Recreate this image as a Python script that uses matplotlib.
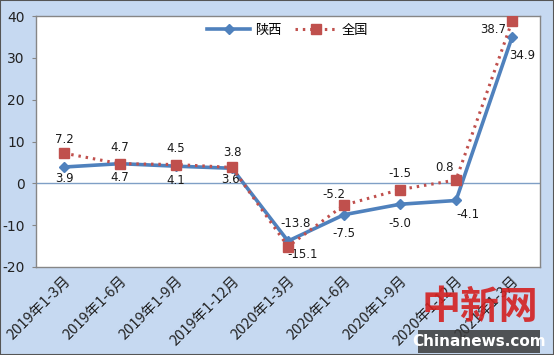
import matplotlib
matplotlib.use("Agg")
import matplotlib.pyplot as plt
from matplotlib.patches import Rectangle

plt.rcParams['font.family'] = ['Noto Sans CJK SC', 'DejaVu Sans']

categories = ["2019年1-3月", "2019年1-6月", "2019年1-9月", "2019年1-12月",
              "2020年1-3月", "2020年1-6月", "2020年1-9月", "2020年1-12月",
              "2021年1-3月"]
shaanxi = [3.9, 4.7, 4.1, 3.6, -13.8, -7.5, -5.0, -4.1, 34.9]
national = [7.2, 4.7, 4.5, 3.8, -15.1, -5.2, -1.5, 0.8, 38.7]
yticks = [-20, -10, 0, 10, 20, 30, 40]

# label offsets in pixels (style)
nat_off = [(0, 14), (0, 16), (0, 16), (0, 15), (15, -8), (-10, 11), (0, 16), (-11, 12), (-19, -8)]
sx_off = [(0, -11), (0, -14), (0, -14), (-2, -11), (8, 18), (0, -19), (0, -19), (12, -14), (10, -18)]

BLUE = '#4F81BD'
RED = '#C0504D'
BG = '#C6D9F1'

fig = plt.figure(figsize=(5.54, 3.55), dpi=100, facecolor=BG)
ax = fig.add_axes([36/554, 1-267/355, (540-36)/554, (267-16)/355])
ax.set_facecolor('white')

x = list(range(len(categories)))
ax.axhline(0, color='#7F9FC6', lw=1, zorder=1)
ax.plot(x, shaanxi, color=BLUE, lw=2.6, marker='D', ms=4.8, label='陕西', zorder=3)
ax.plot(x, national, color=RED, lw=2.2, ls=(0, (0.8, 1.6)), marker='s', ms=6.8,
        markerfacecolor=RED, markeredgecolor=RED, label='全国', zorder=4)

for i, v in enumerate(national):
    ax.annotate(f"{v:.1f}", (i, v), xytext=nat_off[i], textcoords='offset pixels',
                ha='center', va='center', fontsize=8.5, color='#1a1a1a', family='DejaVu Sans')
for i, v in enumerate(shaanxi):
    ax.annotate(f"{v:.1f}", (i, v), xytext=sx_off[i], textcoords='offset pixels',
                ha='center', va='center', fontsize=8.5, color='#1a1a1a', family='DejaVu Sans')

ax.set_xlim(-0.5, len(categories) - 0.5)
ax.set_ylim(-20, 40)
ax.set_yticks(yticks)
ax.set_yticklabels([str(t) for t in yticks], fontsize=10, family='DejaVu Sans', color='#222222')
ax.set_xticks(x)
ax.set_xticklabels(categories, rotation=45, ha='right', va='top', rotation_mode='anchor',
                   fontsize=10.5, color='#222222')
ax.tick_params(axis='x', length=0, pad=5)
ax.tick_params(axis='y', length=3, color='#868686', pad=5)
for s in ax.spines.values():
    s.set_color('#868686')
    s.set_linewidth(1)

leg = ax.legend(loc='upper center', ncol=2, frameon=False, fontsize=9.5,
                bbox_to_anchor=(0.5, 1.0), handlelength=3.2, columnspacing=1.0,
                handletextpad=0.4, borderaxespad=0.2)

# watermark
fig.text(480/554, 1-307/355, "中新网", color='#D42020', fontsize=28, fontweight='bold',
         ha='center', va='center', alpha=0.9)
fig.patches.append(Rectangle((418/554, 1-353/355), 122/554, 23/355, transform=fig.transFigure,
                             facecolor='#3a3a3a', edgecolor='none', alpha=0.85))
fig.text(479/554, 1-342/355, "Chinanews.com", color='white', fontsize=11, fontweight='bold',
         ha='center', va='center', family='DejaVu Sans')

fig.patches.append(Rectangle((0, 0), 1, 1, transform=fig.transFigure, fill=False,
                             edgecolor='#555555', lw=1.5))

fig.savefig('out.png', dpi=100, facecolor=BG)
